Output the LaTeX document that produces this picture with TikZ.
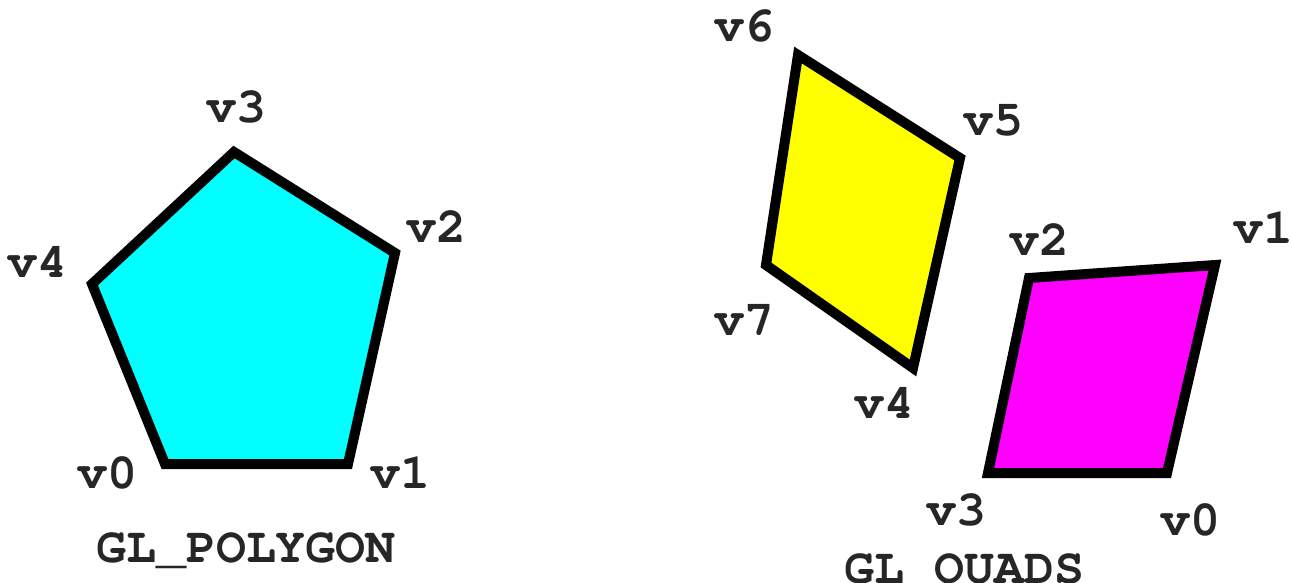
\documentclass[tikz,border=0pt]{standalone}
\newcommand{\courfont}{\fontencoding{T1}\fontfamily{pcr}\fontseries{b}\fontshape{n}\fontsize{50}{54}\selectfont}
\tikzset{
  shape line/.style={line width=10pt, line join=miter, draw=black},
  vlabel/.style={font=\courfont, text=black!85, inner sep=0pt, anchor=base},
  title/.style={font=\courfont, text=black!85, inner sep=0pt, anchor=base}
}
\begin{document}
\begin{tikzpicture}[x=1pt,y=-1pt]
\useasboundingbox (0,0) rectangle (1291,583);
\clip (0,0) rectangle (1291,583);
% pentagon
\coordinate (p0) at (165,464);
\coordinate (p1) at (348,464);
\coordinate (p2) at (395,253);
\coordinate (p3) at (234,152);
\coordinate (p4) at (92,284);
\filldraw[shape line, fill={rgb,255:red,0;green,255;blue,255}] (p0) -- (p1) -- (p2) -- (p3) -- (p4) -- cycle;
\node[vlabel] (lp0) at (107,488) {v0};
\node[vlabel] (lp1) at (400,488) {v1};
\node[vlabel] (lp2) at (436,242) {v2};
\node[vlabel] (lp3) at (236,123) {v3};
\node[vlabel] (lp4) at (37,277) {v4};
\node[title] (tpoly) at (246,562) {GL\_POLYGON};
% yellow quad
\coordinate (q4) at (913,368);
\coordinate (q5) at (960,158);
\coordinate (q6) at (798,55);
\coordinate (q7) at (766,265);
\filldraw[shape line, fill={rgb,255:red,255;green,255;blue,0}] (q4) -- (q5) -- (q6) -- (q7) -- cycle;
% magenta quad
\coordinate (q0) at (1167,473);
\coordinate (q1) at (1215,265);
\coordinate (q2) at (1029,278);
\coordinate (q3) at (988,473);
\filldraw[shape line, fill={rgb,255:red,255;green,0;blue,255}] (q0) -- (q1) -- (q2) -- (q3) -- cycle;
\node[vlabel] (lq0) at (1190,535) {v0};
\node[vlabel] (lq1) at (1263,243) {v1};
\node[vlabel] (lq2) at (1039,255) {v2};
\node[vlabel] (lq3) at (956,525) {v3};
\node[vlabel] (lq4) at (884,418) {v4};
\node[vlabel] (lq5) at (993,136) {v5};
\node[vlabel] (lq6) at (744,42) {v6};
\node[vlabel] (lq7) at (744,335) {v7};
\node[title] (tquads) at (964,583) {GL\_QUADS};
\end{tikzpicture}
\end{document}
